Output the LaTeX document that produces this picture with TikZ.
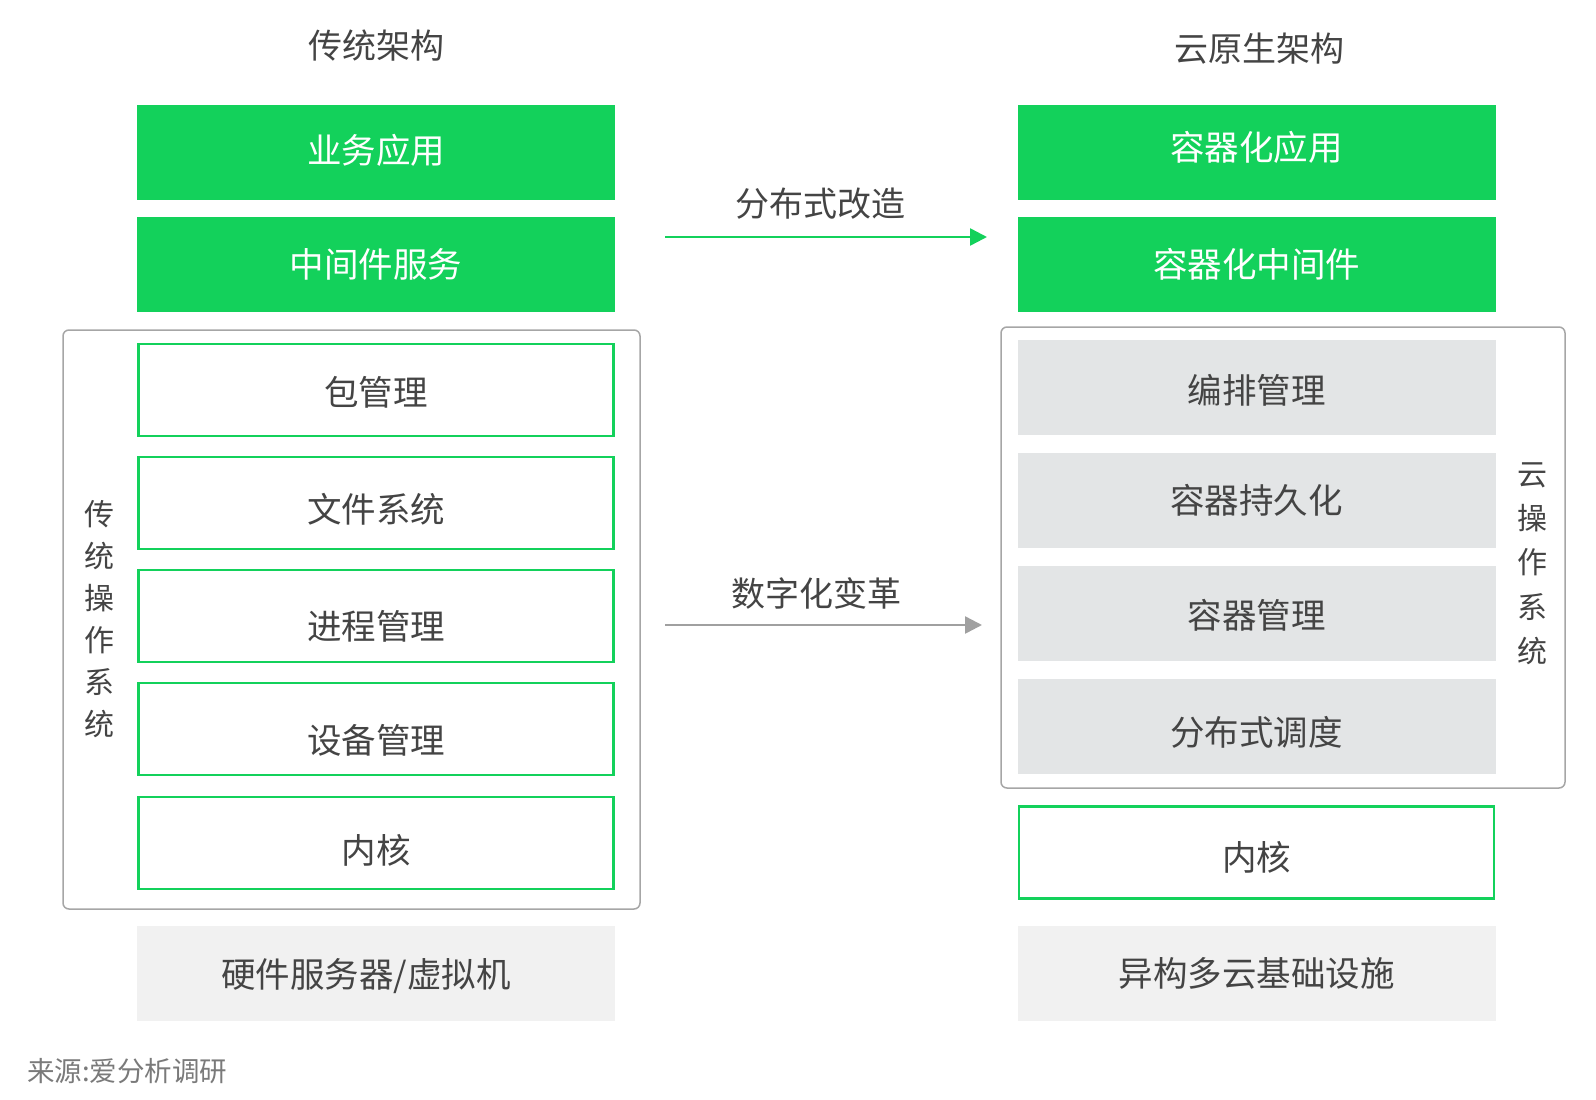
\documentclass[tikz,border=0pt]{standalone}
\usepackage{fontspec}
\usepackage{xcolor}
\usepackage{tikz}
\usetikzlibrary{arrows.meta}
\newfontfamily\cjk{Noto Sans CJK SC}
\definecolor{brandgreen}{HTML}{13D15B}
\definecolor{osfill}{HTML}{E3E5E6}
\definecolor{basefill}{HTML}{F1F1F1}
\definecolor{framedraw}{HTML}{A6A6A6}
\definecolor{txtdark}{HTML}{444444}
\definecolor{srcgray}{HTML}{7A7A7A}
\definecolor{arrgray}{HTML}{A0A0A0}
% shift a box text up or down without changing its box
\newcommand{\txtdown}[2]{\raisebox{-#1}[\height][\depth]{#2}}
\tikzset{
  blk/.style={rectangle, inner sep=0pt, align=center, minimum width=478pt, minimum height=95pt, font=\cjk\fontsize{34.5}{40}\selectfont},
  grn/.style={blk, fill=brandgreen, text=white},
  lay/.style={blk, draw=brandgreen, line width=2.5pt, fill=white, text=txtdark, minimum width=475pt, minimum height=92pt},
  osl/.style={blk, fill=osfill, text=txtdark},
  base/.style={blk, fill=basefill, text=txtdark},
  frame/.style={rectangle, draw=framedraw, line width=1.5pt, rounded corners=6pt, inner sep=0pt},
  ttl/.style={font=\cjk\fontsize{34}{40}\selectfont, text=txtdark},
  vtxt/.style={align=center, text=txtdark, inner sep=0pt},
  lab/.style={font=\cjk\fontsize{34}{40}\selectfont, text=txtdark},
  arr/.style={-{Triangle[length=17pt, width=17pt]}, line width=2.5pt},
}
\begin{document}
\begin{tikzpicture}[x=1pt, y=-1pt]
  \useasboundingbox[fill=white] (0,0) rectangle (1596,1100);
  % frames
  \node[frame, minimum width=577pt, minimum height=579pt] (osL) at (351.5,619.5) {};
  \node[frame, minimum width=564pt, minimum height=461pt] (osR) at (1283,557.5) {};
  % titles
  \node[ttl] (tL) at (376,46) {传统架构};
  \node[ttl] (tR) at (1259,49) {云原生架构};
  % left stack
  \node[grn] (app) at (376,152) {\txtdown{-2pt}{业务应用}};
  \node[grn] (mid) at (376,264.5) {中间件服务};
  \node[lay] (pkg) at (376,390) {\txtdown{2pt}{包管理}};
  \node[lay] (fs) at (376,503) {\txtdown{6pt}{文件系统}};
  \node[lay] (proc) at (376,616) {\txtdown{10pt}{进程管理}};
  \node[lay] (dev) at (376,729) {\txtdown{11pt}{设备管理}};
  \node[lay] (kerL) at (376,843) {\txtdown{7pt}{内核}};
  \node[base] (hw) at (376,973) {\txtdown{3pt}{硬件服务器/虚拟机\hspace{20pt}}};
  \node[vtxt, font=\cjk\fontsize{30}{42}\selectfont] (osLtxt) at (99,619.5) {传\\统\\操\\作\\系\\统};
  % right stack
  \node[grn] (capp) at (1256.5,152) {\txtdown{-5pt}{容器化应用}};
  \node[grn] (cmid) at (1256.5,264.5) {容器化中间件};
  \node[osl] (orch) at (1256.5,387.5) {\txtdown{3pt}{编排管理}};
  \node[osl] (pers) at (1256.5,500.5) {容器持久化};
  \node[osl] (cmgr) at (1256.5,613.5) {\txtdown{2pt}{容器管理}};
  \node[osl] (sched) at (1256.5,726.5) {\txtdown{6pt}{分布式调度}};
  \node[lay] (kerR) at (1256.5,852.5) {\txtdown{5pt}{内核}};
  \node[base] (infra) at (1256.5,973) {异构多云基础设施};
  \node[vtxt, font=\cjk\fontsize{30}{44.3}\selectfont] (osRtxt) at (1532,563.5) {云\\操\\作\\系\\统};
  % transitions
  \coordinate (a1s) at (665,237);
  \coordinate (a1e) at (987,237);
  \coordinate (a2s) at (665,625);
  \coordinate (a2e) at (982,625);
  \draw[arr, draw=brandgreen, fill=brandgreen] (a1s) -- (a1e);
  \draw[arr, draw=arrgray, fill=arrgray] (a2s) -- (a2e);
  \node[lab] (l1) at (820,204) {分布式改造};
  \node[lab] (l2) at (816,593) {数字化变革};
  % source
  \node[anchor=west, font=\cjk\fontsize{27.5}{30}\selectfont, text=srcgray, inner sep=0pt] (src) at (27,1071) {来源:爱分析调研};
\end{tikzpicture}
\end{document}
